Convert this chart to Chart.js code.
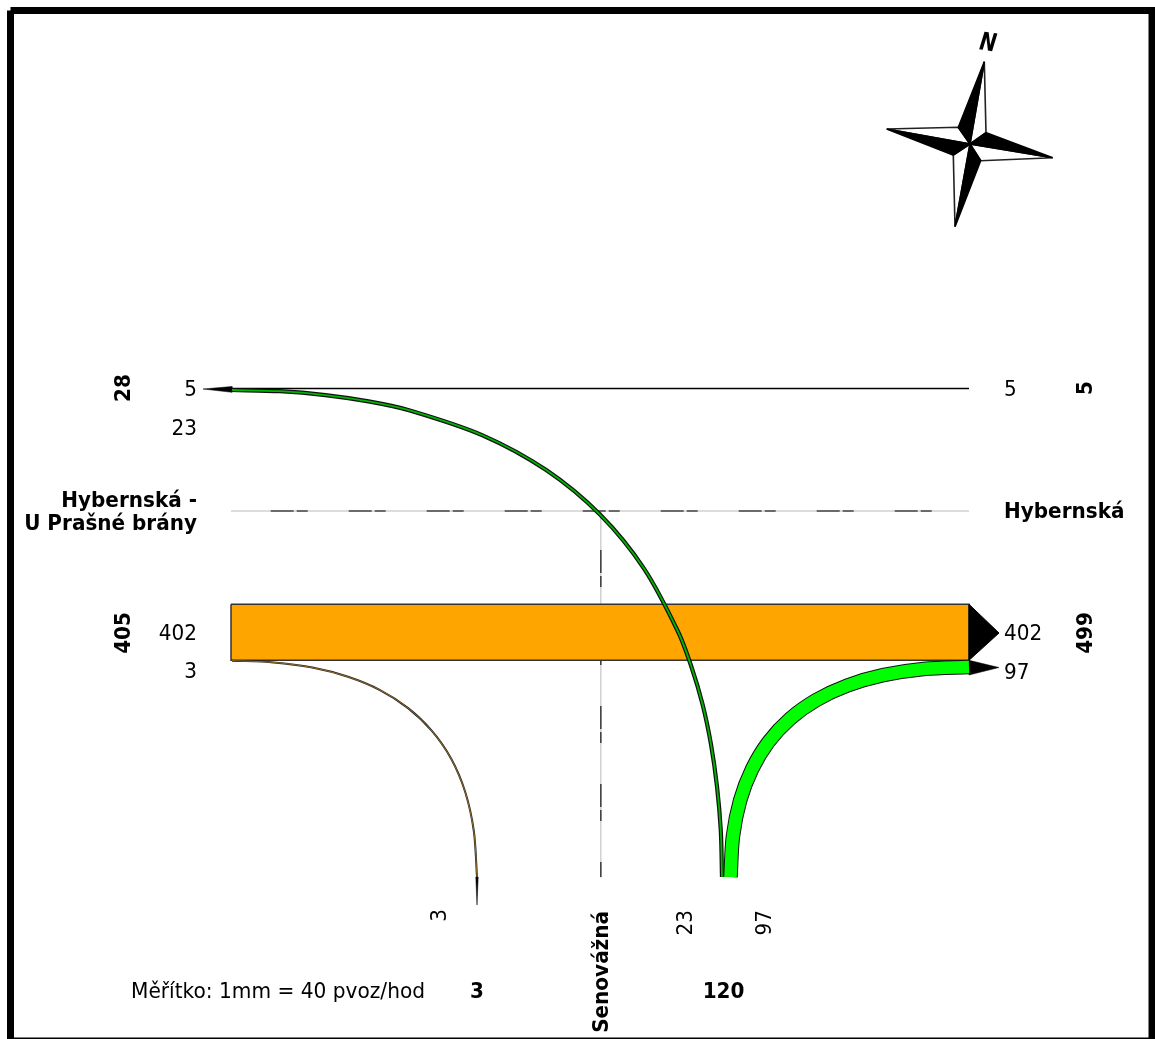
<!DOCTYPE html>
<html>
<head>
<meta charset="utf-8">
<style>html,body{margin:0;padding:0;background:#fff}canvas{display:block}</style>
<script src="https://cdn.jsdelivr.net/npm/chart.js@4"></script>
</head>
<body>
<canvas id="c" width="1155" height="1039"></canvas>
<script>
// Turning flows (x, y on the diagram's plane)
const flow23X = [232,279.8,325.4,368.5,408.9,482.5,546.2,600,644,678.2,691.5,702.6,711,717,720.8,722];
const flow23Y = [390,391.2,395.1,401.4,410.2,435.3,470.1,514.6,568.6,632,667,704.5,744.4,786.4,830.7,877];
const flow97X = [969,923.6,883,847.4,816.4,790.1,768.7,752.1,740.1,732.9,730.5];
const flow97Y = [667,669,675.2,685.5,700,718.7,741.7,769,800.5,836.6,877];
const flow3X  = [232,273.6,312.4,348,380,408.1,431.9,451.2,465.3,473.9,477];
const flow3Y  = [660.7,662.4,667.6,676.8,690.1,708.1,730.9,758.8,792.3,831.5,877];
const flow5X  = [232,969];
const flow5Y  = [388.5,388.5];
const flow402X = [231,969,969,231];
const flow402Y = [604.3,604.3,660.3,660.3];
// Arrow heads
const head402X = [969,999,969];
const head402Y = [604.3,633,660.3];
const head97X  = [969,999,969];
const head97Y  = [660.3,667.5,675];
const head28X  = [203,232,232];
const head28Y  = [389,386.5,392.3];
const head3X   = [475.8,478.2,477];
const head3Y   = [877,877,905];
// Street axes
const axisEWX = [231,969];
const axisEWY = [511,511];
const axisNSX = [600.8,600.8];
const axisNSY = [511,877];
const dashEWX = [270.7,933];
const dashEWY = [511,511];
const dashNSX = [600.8,600.8];
const dashNSY = [550,877];
// Compass
const compassC = [970,144];
const compassN = [984.3,61.7];
const compassE = [1052.7,157.7];
const compassS = [955,226.7];
const compassW = [886.7,129];
const compassNE = [986,132.7];
const compassSE = [980.7,160.7];
const compassSW = [953.3,155];
const compassNW = [958.3,127.3];
// Frame
const frameX = [10.5,1152,1152,10.5,10.5];
const frameY = [10.5,10.5,1041,1041,10.5];
// Texts
const flowTexts = ['5','23','402','3','5','402','97','3','23','97'];
const sumTexts = ['28','405','5','499','3','120'];
const streetTexts = ['Hybernská -','U Prašné brány','Hybernská','Senovážná'];
const scaleText = 'Měřítko: 1mm = 40 pvoz/hod';
const northText = 'N';

const pts = (xs,ys)=>xs.map((x,i)=>({x,y:ys[i]}));
const tri = (...p)=>p.map(([x,y])=>({x,y}));
const line = (data,color,width,extra={})=>Object.assign({data,showLine:true,pointRadius:0,borderColor:color,borderWidth:width,borderCapStyle:'butt',borderJoinStyle:'round',fill:false,tension:0},extra);
const poly = (data,fillColor,color,width)=>line(data,color,width,{polyFill:fillColor,borderJoinStyle:'miter'});
const closedPts = (xs,ys)=>pts(xs.concat(xs[0]),ys.concat(ys[0]));
const curve = {tension:0.3};

const list = [
  line(pts(frameX,frameY),'#000',7,{borderJoinStyle:'miter'}),
  line(pts(axisEWX,axisEWY),'#d0d0d0',1.5),
  line(pts(axisNSX,axisNSY),'#d0d0d0',1.5),
  line(pts(dashEWX,dashEWY),'#444',1.6,{borderDash:[23,3,11,41]}),
  line(pts(dashNSX,dashNSY),'#444',1.6,{borderDash:[23,3,11,41]}),
  line(pts(flow5X,flow5Y),'#000',1.5),
  poly(closedPts(flow402X,flow402Y),'#FFA500','#333',1.5),
  poly(closedPts(head402X,head402Y),'#000','#000',1),
  poly(closedPts(head97X,head97Y),'#000','#000',0.5),
  poly(closedPts(head28X,head28Y),'#000','#000',0.5),
  poly(closedPts(head3X,head3Y),'#000','#000',0.5),
  line(pts(flow3X,flow3Y),'#222',2,curve),
  line(pts(flow3X,flow3Y),'#c08a2a',0.7,curve),
  line(pts(flow23X,flow23Y),'#111',4.2,curve),
  line(pts(flow23X,flow23Y),'#00b400',1.8,curve),
  line(pts(flow97X,flow97Y),'#111',14.5,curve),
  line(pts(flow97X,flow97Y),'#00ff00',12.5,curve),
  poly(tri(compassN,compassNE,compassC,compassN),'#fff','#222',1.6),
  poly(tri(compassE,compassSE,compassC,compassE),'#fff','#222',1.6),
  poly(tri(compassS,compassSW,compassC,compassS),'#fff','#222',1.6),
  poly(tri(compassW,compassNW,compassC,compassW),'#fff','#222',1.6),
  poly(tri(compassN,compassNW,compassC,compassN),'#000','#000',1.6),
  poly(tri(compassE,compassNE,compassC,compassE),'#000','#000',1.6),
  poly(tri(compassS,compassSE,compassC,compassS),'#000','#000',1.6),
  poly(tri(compassW,compassSW,compassC,compassW),'#000','#000',1.6)
];
list.forEach((d,i)=>{d.order=list.length-i;});

const F = '"DejaVu Sans"';
const reg = '20px '+F, bold = 'bold 20px '+F;
const tall = 1.07;
const placements = [
  // text, x, y, align, font, rotation (deg), height stretch
  [flowTexts[0],197,390,'right',reg,0,tall],
  [flowTexts[1],197,429.5,'right',reg,0,tall],
  [flowTexts[2],197,634,'right',reg,0,tall],
  [flowTexts[3],197,672.5,'right',reg,0,tall],
  [flowTexts[4],1004,390,'left',reg,0,tall],
  [flowTexts[5],1004,634,'left',reg,0,tall],
  [flowTexts[6],1004,673,'left',reg,0,tall],
  [flowTexts[7],440,909,'right',reg,-90,tall],
  [flowTexts[8],686,910,'right',reg,-90,tall],
  [flowTexts[9],765,910,'right',reg,-90,tall],
  [sumTexts[0],124,388,'center',bold,-90,tall],
  [sumTexts[1],124,633,'center',bold,-90,tall],
  [sumTexts[2],1086,388,'center',bold,-90,tall],
  [sumTexts[3],1086,633,'center',bold,-90,tall],
  [sumTexts[4],477,992,'center',bold,0,tall],
  [sumTexts[5],723.5,992,'center',bold,0,tall],
  [streetTexts[0],197,501,'right',bold,0,tall],
  [streetTexts[1],197,524,'right',bold,0,tall],
  [streetTexts[2],1004,512,'left',bold,0,tall],
  [streetTexts[3],602,911,'right',bold,-90,tall],
  [scaleText,131,992,'left','20.15px '+F,0,tall],
  [northText,988,44,'center','italic bold 20px '+F,8,1.25]
];

const polyFillPlugin = {
  id:'polyFill',
  beforeDatasetDraw(chart,args){
    const ds = chart.data.datasets[args.index];
    if(!ds.polyFill) return;
    const ctx = chart.ctx, p = args.meta.data;
    ctx.save();ctx.beginPath();
    p.forEach((e,i)=> i?ctx.lineTo(e.x,e.y):ctx.moveTo(e.x,e.y));
    ctx.closePath();ctx.fillStyle=ds.polyFill;ctx.fill();ctx.restore();
  }
};
const textPlugin = {
  id:'texts',
  afterDatasetsDraw(chart){
    const ctx = chart.ctx, sx = chart.scales.x, sy = chart.scales.y;
    placements.forEach(([t,x,y,al,font,rot,stretch])=>{
      ctx.save();
      ctx.translate(sx.getPixelForValue(x),sy.getPixelForValue(y));
      ctx.rotate(rot*Math.PI/180);
      ctx.scale(1,stretch);
      ctx.font=font;ctx.textAlign=al;ctx.textBaseline='middle';ctx.fillStyle='#000';
      ctx.fillText(t,0,0);
      ctx.restore();
    });
  }
};

new Chart(document.getElementById('c'),{
  type:'scatter',
  data:{datasets:list},
  plugins:[polyFillPlugin,textPlugin],
  options:{
    responsive:false,animation:false,devicePixelRatio:1,
    layout:{padding:0},
    plugins:{legend:{display:false},tooltip:{enabled:false},title:{display:false}},
    scales:{
      x:{type:'linear',min:0,max:1155,display:false},
      y:{type:'linear',min:0,max:1039,reverse:true,display:false}
    }
  }
});
</script>
</body>
</html>
